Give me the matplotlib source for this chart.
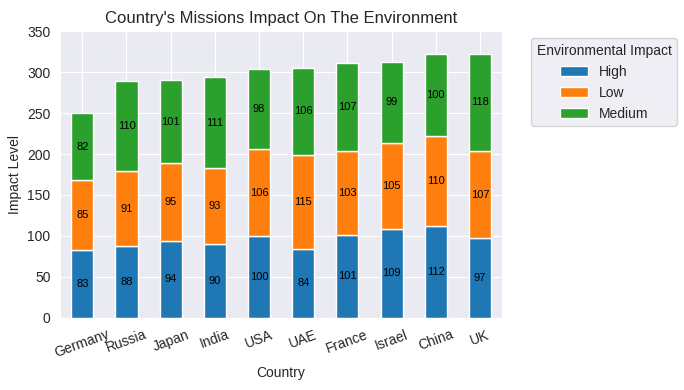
import numpy as np
import matplotlib.pyplot as plt
import seaborn as sns

countries = ['Germany', 'Russia', 'Japan', 'India', 'USA', 'UAE', 'France', 'Israel', 'China', 'UK']
high = [83, 88, 94, 90, 100, 84, 101, 109, 112, 97]
low = [85, 91, 95, 93, 106, 115, 103, 105, 110, 107]
medium = [82, 110, 101, 111, 98, 106, 107, 99, 100, 118]

sns.set_style('darkgrid')
plt.rcParams['font.family'] = ['Liberation Sans', 'DejaVu Sans']

fig, ax = plt.subplots(figsize=(6.84, 3.9), dpi=100)
x = np.arange(len(countries))
w = 0.5
bottom = np.zeros(len(countries))
for vals, name, col in [(high, 'High', '#1f77b4'), (low, 'Low', '#ff7f0e'), (medium, 'Medium', '#2ca02c')]:
    vals = np.array(vals)
    bars = ax.bar(x, vals, w, bottom=bottom, label=name, color=col, edgecolor='white', linewidth=1)
    for xi, b, v in zip(x, bottom, vals):
        ax.text(xi, b + v / 2, str(v), ha='center', va='center', fontsize=8, color='black')
    bottom = bottom + vals

ax.set_xlim(-0.5, len(countries) - 0.5)
ax.set_ylim(0, 350)
ax.set_xticks(x)
ax.set_xticklabels(countries, rotation=20)
ax.set_xlabel('Country')
ax.set_ylabel('Impact Level')
ax.set_title("Country's Missions Impact On The Environment")
ax.legend(title='Environmental Impact', bbox_to_anchor=(1.05, 1), loc='upper left')

plt.subplots_adjust(left=0.088, right=0.734, top=0.92, bottom=0.185)
plt.savefig('out.png')
